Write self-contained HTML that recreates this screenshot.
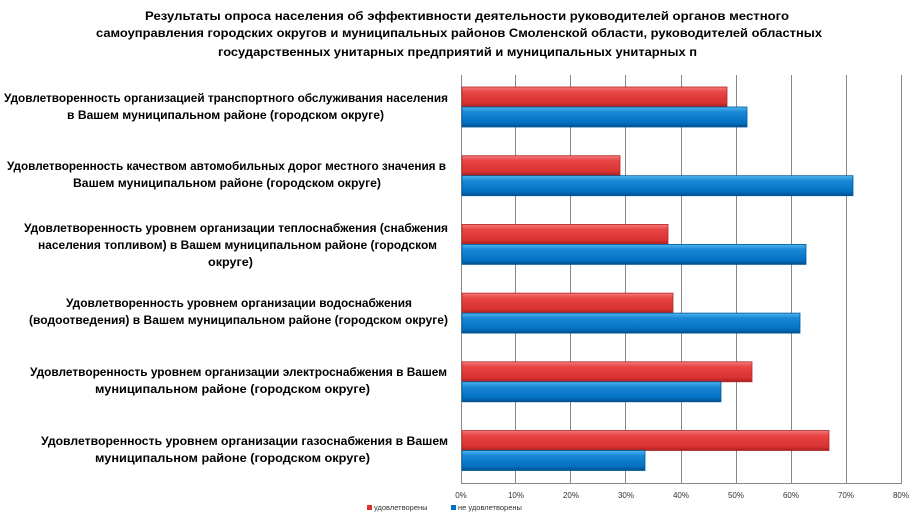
<!DOCTYPE html>
<html><head><meta charset="utf-8"><style>body{margin:0;background:#fff}svg{display:block}</style></head><body>
<svg width="918" height="525" xmlns="http://www.w3.org/2000/svg" font-family="Liberation Sans, sans-serif">
<defs>
<linearGradient id="r" x1="0" y1="0" x2="0" y2="1"><stop offset="0" stop-color="#f47a7a"/><stop offset="0.25" stop-color="#e84444"/><stop offset="0.8" stop-color="#d83232"/><stop offset="1" stop-color="#a82020"/></linearGradient>
<linearGradient id="b" x1="0" y1="0" x2="0" y2="1"><stop offset="0" stop-color="#4fb6f0"/><stop offset="0.25" stop-color="#1a88d6"/><stop offset="0.8" stop-color="#0070c0"/><stop offset="1" stop-color="#004f8a"/></linearGradient>
</defs>
<g font-weight="bold" font-size="12" fill="#000" text-anchor="start">
<text x="145" y="20" textLength="644" lengthAdjust="spacingAndGlyphs">Результаты опроса населения об эффективности деятельности руководителей органов местного</text>
<text x="96" y="37" textLength="726" lengthAdjust="spacingAndGlyphs">самоуправления городских округов и муниципальных районов Смоленской области, руководителей областных</text>
<text x="218" y="56" textLength="479" lengthAdjust="spacingAndGlyphs">государственных унитарных предприятий и муниципальных унитарных п</text>
</g>
<g font-weight="bold" font-size="11.5" fill="#000">
<text x="4" y="102" textLength="444" lengthAdjust="spacingAndGlyphs">Удовлетворенность организацией транспортного обслуживания населения</text>
<text x="67" y="119" textLength="317" lengthAdjust="spacingAndGlyphs">в Вашем муниципальном районе (городском округе)</text>
<text x="7" y="170" textLength="439" lengthAdjust="spacingAndGlyphs">Удовлетворенность качеством автомобильных дорог местного значения в</text>
<text x="73" y="187" textLength="308" lengthAdjust="spacingAndGlyphs">Вашем муниципальном районе (городском округе)</text>
<text x="24" y="232" textLength="424" lengthAdjust="spacingAndGlyphs">Удовлетворенность уровнем организации теплоснабжения (снабжения</text>
<text x="38" y="249" textLength="399" lengthAdjust="spacingAndGlyphs">населения топливом) в Вашем муниципальном районе (городском</text>
<text x="208" y="266" textLength="45" lengthAdjust="spacingAndGlyphs">округе)</text>
<text x="66" y="307" textLength="346" lengthAdjust="spacingAndGlyphs">Удовлетворенность уровнем организации водоснабжения</text>
<text x="29" y="324" textLength="419" lengthAdjust="spacingAndGlyphs">(водоотведения) в Вашем муниципальном районе (городском округе)</text>
<text x="30" y="376" textLength="417" lengthAdjust="spacingAndGlyphs">Удовлетворенность уровнем организации электроснабжения в Вашем</text>
<text x="95" y="393" textLength="275" lengthAdjust="spacingAndGlyphs">муниципальном районе (городском округе)</text>
<text x="41" y="445" textLength="407" lengthAdjust="spacingAndGlyphs">Удовлетворенность уровнем организации газоснабжения в Вашем</text>
<text x="95" y="462" textLength="275" lengthAdjust="spacingAndGlyphs">муниципальном районе (городском округе)</text>
</g>
<g stroke="#888" stroke-width="1">
<line x1="461.5" y1="75" x2="461.5" y2="483"/>
<line x1="515.5" y1="75" x2="515.5" y2="483"/>
<line x1="570.5" y1="75" x2="570.5" y2="483"/>
<line x1="625.5" y1="75" x2="625.5" y2="483"/>
<line x1="681.5" y1="75" x2="681.5" y2="483"/>
<line x1="736.5" y1="75" x2="736.5" y2="483"/>
<line x1="791.5" y1="75" x2="791.5" y2="483"/>
<line x1="846.5" y1="75" x2="846.5" y2="483"/>
<line x1="901.5" y1="75" x2="901.5" y2="483"/>
<line x1="461" y1="483.5" x2="902" y2="483.5"/>
</g>
<g stroke-width="0.8">
<rect x="462" y="87" width="265" height="20" fill="url(#r)" stroke="#b02828"/>
<rect x="462" y="107" width="285" height="20" fill="url(#b)" stroke="#005a9a"/>
<rect x="462" y="155.7" width="158" height="20" fill="url(#r)" stroke="#b02828"/>
<rect x="462" y="175.7" width="391" height="20" fill="url(#b)" stroke="#005a9a"/>
<rect x="462" y="224.4" width="206" height="20" fill="url(#r)" stroke="#b02828"/>
<rect x="462" y="244.4" width="344" height="20" fill="url(#b)" stroke="#005a9a"/>
<rect x="462" y="293.1" width="211" height="20" fill="url(#r)" stroke="#b02828"/>
<rect x="462" y="313.1" width="338" height="20" fill="url(#b)" stroke="#005a9a"/>
<rect x="462" y="361.8" width="290" height="20" fill="url(#r)" stroke="#b02828"/>
<rect x="462" y="381.8" width="259" height="20" fill="url(#b)" stroke="#005a9a"/>
<rect x="462" y="430.5" width="367" height="20" fill="url(#r)" stroke="#b02828"/>
<rect x="462" y="450.5" width="183" height="20" fill="url(#b)" stroke="#005a9a"/>
</g>
<g font-size="8" fill="#333" text-anchor="middle">
<text x="461" y="498">0%</text><text x="516" y="498">10%</text><text x="571" y="498">20%</text><text x="626" y="498">30%</text><text x="681" y="498">40%</text><text x="736" y="498">50%</text><text x="791" y="498">60%</text><text x="846" y="498">70%</text><text x="901" y="498">80%</text>
</g>
<rect x="367" y="505" width="5" height="5" fill="#e03030"/>
<text x="374" y="510" font-size="7.5" fill="#333">удовлетворены</text>
<rect x="451" y="505" width="5" height="5" fill="#0070c0"/>
<text x="458" y="510" font-size="7.5" fill="#333">не удовлетворены</text>
</svg>
</body></html>
